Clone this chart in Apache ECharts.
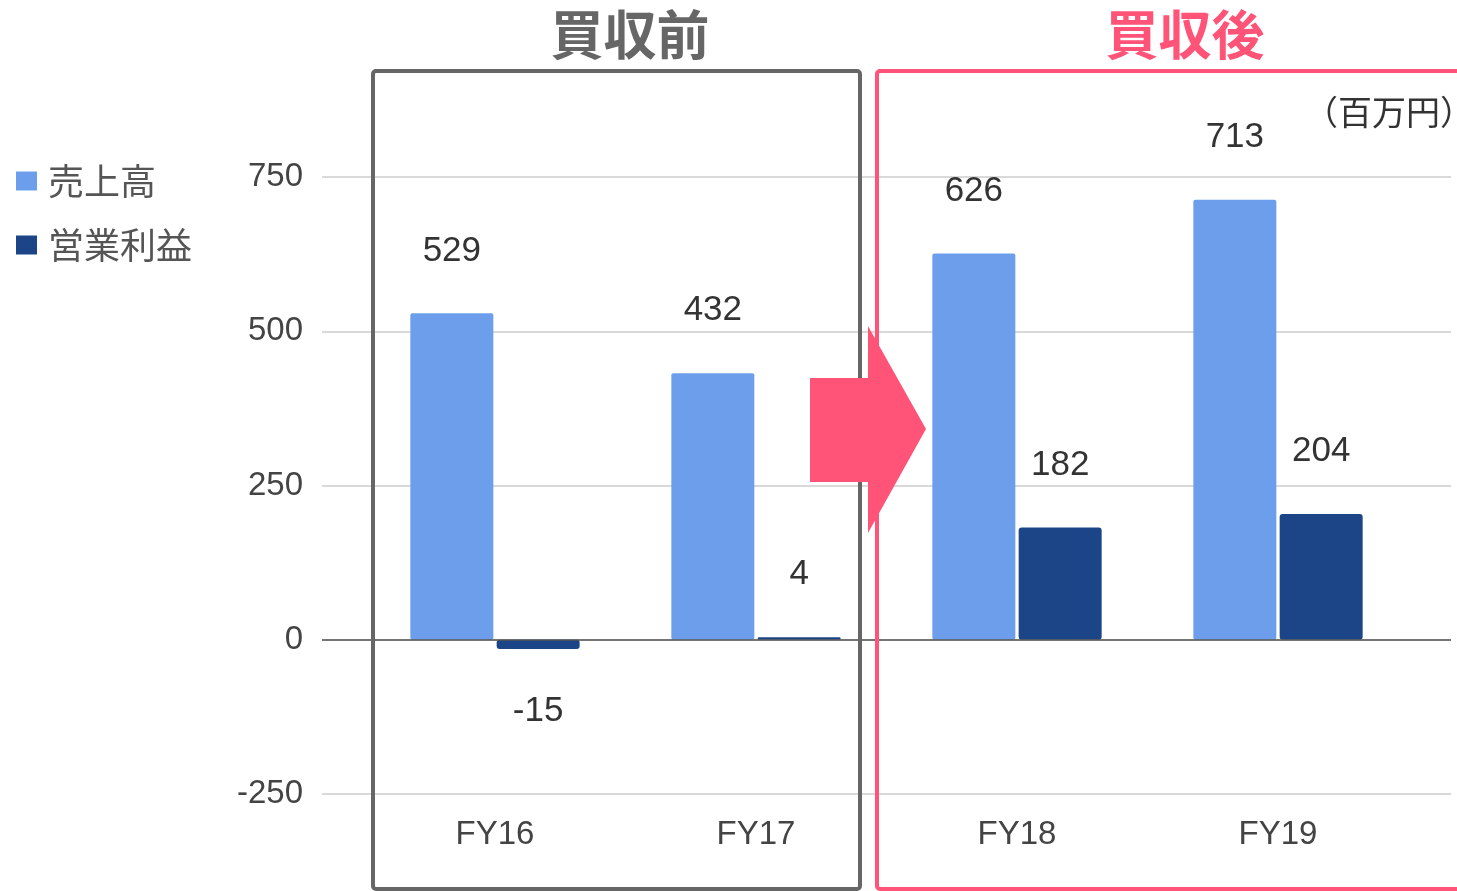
<!DOCTYPE html>
<html>
<head>
<meta charset="utf-8">
<script src="https://cdn.jsdelivr.net/npm/echarts@6/dist/echarts.min.js"></script>
<style>
  html, body { margin: 0; padding: 0; background: #fff; }
  #chart { width: 1457px; height: 891px; }
</style>
</head>
<body>
<div id="chart"></div>
<script>
// data
const years = ["FY16", "FY17", "FY18", "FY19"];
const sales = [529, 432, 626, 713];
const opProfit = [-15, 4, 182, 204];
const yTicks = { min: -250, max: 750, step: 250 };

const PINK = "#ff5478";
const GRAY = "#666666";
const cjk = "'Noto Sans CJK JP', sans-serif";
const num = "'Liberation Sans', Arial, sans-serif";

// labels go above positive bars and below negative ones
const withLabels = (vals) => vals.map(v => ({
  value: v,
  label: { position: v < 0 ? "bottom" : "top" }
}));

var myChart = echarts.init(document.getElementById("chart"));

myChart.setOption({
  animation: false,
  legend: {
    orient: "vertical",
    left: 11,
    top: 158,
    itemWidth: 21,
    itemHeight: 19,
    itemGap: 28,
    icon: "rect",
    textStyle: { fontFamily: cjk, fontSize: 36, color: "#555", lineHeight: 36, padding: [0, 0, 0, 6] },
    data: ["売上高", "営業利益"]
  },
  grid: [
    // full-width grid only for gridlines and y labels
    { left: 322, right: 6, top: 177, bottom: 97 },
    // inner grid for the bars
    { left: 364.5, right: 48.5, top: 177, bottom: 97 }
  ],
  xAxis: [
    { gridIndex: 0, type: "category", data: years, show: false },
    {
      gridIndex: 1,
      type: "category",
      data: years,
      axisLine: { show: false },
      axisTick: { show: false },
      axisLabel: { fontFamily: num, fontSize: 33, color: "#444", margin: 24 }
    }
  ],
  yAxis: [
    {
      gridIndex: 0,
      type: "value",
      min: yTicks.min,
      max: yTicks.max,
      interval: yTicks.step,
      axisLine: { show: false },
      axisTick: { show: false },
      axisLabel: { fontFamily: num, fontSize: 33, color: "#444", margin: 19 },
      splitLine: { lineStyle: { color: "#cccccc", width: 1.5 } }
    },
    {
      gridIndex: 1,
      type: "value",
      min: yTicks.min,
      max: yTicks.max,
      interval: yTicks.step,
      show: false
    }
  ],
  series: [
    {
      // zero baseline across the full width
      type: "line",
      xAxisIndex: 0,
      yAxisIndex: 0,
      data: [],
      markLine: {
        silent: true,
        symbol: "none",
        label: { show: false },
        lineStyle: { color: "#555", width: 1.5, type: "solid" },
        data: [{ yAxis: 0 }]
      }
    },
    {
      name: "売上高",
      type: "bar",
      xAxisIndex: 1,
      yAxisIndex: 1,
      barWidth: 83,
      barGap: "4%",
      itemStyle: { color: "#6d9eeb", borderRadius: 2 },
      label: { show: true, fontFamily: num, fontSize: 35, color: "#333", distance: 45 },
      data: withLabels(sales)
    },
    {
      name: "営業利益",
      type: "bar",
      xAxisIndex: 1,
      yAxisIndex: 1,
      barWidth: 83,
      itemStyle: { color: "#1c4587", borderRadius: 3 },
      label: { show: true, fontFamily: num, fontSize: 35, color: "#333", distance: 45 },
      data: withLabels(opProfit)
    }
  ],
  graphic: [
    {
      type: "rect",
      z: 50,
      shape: { x: 373, y: 71, width: 487, height: 818, r: 3 },
      style: { fill: "none", stroke: GRAY, lineWidth: 4 }
    },
    {
      type: "rect",
      z: 50,
      shape: { x: 877, y: 71, width: 640, height: 818, r: 3 },
      style: { fill: "none", stroke: PINK, lineWidth: 4 }
    },
    {
      type: "polygon",
      z: 60,
      shape: { points: [[810, 378], [868, 378], [868, 326], [926, 429], [868, 533], [868, 482], [810, 482]] },
      style: { fill: PINK }
    },
    {
      type: "text",
      z: 60,
      x: 630,
      y: 35,
      style: { text: "買収前", fill: GRAY, font: "bold 53px " + cjk, align: "center", verticalAlign: "middle" }
    },
    {
      type: "text",
      z: 60,
      x: 1185,
      y: 35,
      style: { text: "買収後", fill: PINK, font: "bold 53px " + cjk, align: "center", verticalAlign: "middle" }
    },
    {
      type: "text",
      z: 60,
      x: 1304,
      y: 112,
      style: { text: "（百万円）", fill: "#333", font: "34px " + cjk, align: "left", verticalAlign: "middle" }
    }
  ]
});
</script>
</body>
</html>
